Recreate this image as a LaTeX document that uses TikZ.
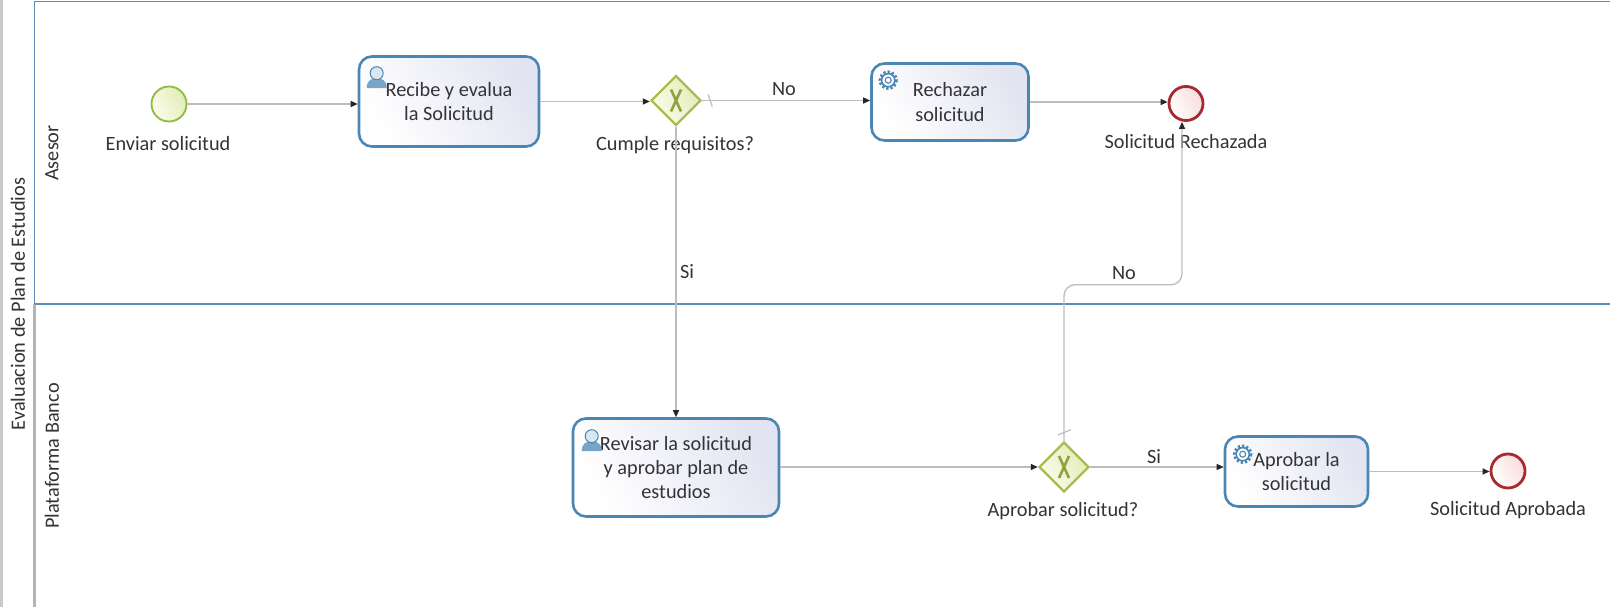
\documentclass[tikz,border=0pt]{standalone}
\usepackage{fontspec}
\setmainfont{Carlito}
\usetikzlibrary{shapes.geometric,arrows.meta,calc}
\definecolor{lanegray}{HTML}{B4B4B4}
\definecolor{laneblue}{HTML}{5B8DB8}
\definecolor{taskblue}{HTML}{4A86B4}
\definecolor{taskend}{HTML}{E2E4F1}
\definecolor{flowgray}{HTML}{BDBDBD}
\definecolor{gwolive}{HTML}{A9BD4E}
\definecolor{gwend}{HTML}{E3EBB8}
\definecolor{gwstart}{HTML}{FBFCEC}
\definecolor{startgreen}{HTML}{8DBB3C}
\definecolor{startend}{HTML}{E2EDB8}
\definecolor{endred}{HTML}{A5292F}
\definecolor{endend}{HTML}{F9DCDA}
\definecolor{txt}{HTML}{333338}
\tikzset{
  x=1pt,y=-1pt,
  lbl/.style={text=txt,font=\fontsize{20.3}{24.4}\selectfont,inner sep=0pt,align=center},
  task/.style={draw=taskblue,line width=2.6pt,rounded corners=13pt,inner sep=0pt,left color=white,right color=taskend,shading angle=120,text=txt,font=\fontsize{20.3}{24.4}\selectfont,align=center},
  gateway/.style={diamond,draw=gwolive,line width=2.4pt,minimum width=50pt,minimum height=50pt,inner sep=0pt,aspect=1,left color=gwstart,right color=gwend,shading angle=120},
  startev/.style={circle,draw=startgreen,line width=1.8pt,minimum size=35pt,inner sep=0pt,left color=gwstart,right color=startend,shading angle=120},
  endev/.style={circle,draw=endred,line width=2.8pt,minimum size=34pt,inner sep=0pt,left color=white,right color=endend,shading angle=120},
  flow/.style={draw=flowgray,line width=1.3pt,-{Triangle[length=7pt,width=6pt,color=black!85]}},
  flowtick/.style={draw=flowgray,line width=1.2pt},
  usericon/.pic={
    \fill[taskblue!75!white] (-10,14) .. controls (-10,6) and (-5,4) .. (0,4) .. controls (5,4) and (10,6) .. (10,14) -- cycle;
    \draw[taskblue,line width=1pt,fill=white!80!taskblue] (0,-1) circle (6.5);
  },
  gearicon/.pic={
    \draw[taskblue,line width=3pt,dash pattern=on 2.2pt off 2pt] (0,0) circle (8.2);
    \draw[taskblue,line width=1.6pt,fill=white] (0,0) circle (6.6);
    \draw[taskblue,line width=1.1pt] (0,0) circle (3);
  },
  gwx/.pic={
    \draw[gwolive!85!black,line width=2.6pt] (-5,-11) -- (5,11) (5,-11) -- (-5,11);
  }
}
\begin{document}
\begin{tikzpicture}
\useasboundingbox (0,0) rectangle (1610,607);
\clip (0,0) rectangle (1610,607);
\fill[white] (0,0) rectangle (1610,607);
% pool and lanes
\fill[lanegray!70] (0,0) rectangle (2.5,607);
\draw[lanegray,line width=2.4pt] (34.5,304) -- (34.5,607);
\draw[laneblue,line width=1.8pt] (34.5,304) -- (34.5,1.5) -- (1610,1.5);
\draw[laneblue,line width=1.8pt] (34.5,304) -- (1610,304);
\node[lbl,rotate=90] (pool) at (18,304) {Evaluacion de Plan de Estudios};
\node[lbl,rotate=90] (lane1) at (52,153) {Asesor};
\node[lbl,rotate=90] (lane2) at (52,456) {Plataforma Banco};
% nodes
\node[startev] (start) at (169,104) {};
\node[task,minimum width=180pt,minimum height=90pt] (recibe) at (449,101.5) {\raisebox{-1pt}{Recibe y evalua}\\\raisebox{-1pt}{la Solicitud}};
\node[gateway] (gw1) at (676,100.5) {};
\node[task,minimum width=157pt,minimum height=77pt] (rechazar) at (950,102) {Rechazar\\solicitud};
\node[endev] (end1) at (1186,103.5) {};
\node[task,minimum width=206pt,minimum height=98pt] (revisar) at (676,467.5) {Revisar la solicitud\\y aprobar plan de\\estudios};
\node[gateway] (gw2) at (1064,467) {};
\node[task,minimum width=143pt,minimum height=70pt] (aprobar) at (1296.5,471.5) {Aprobar la\\solicitud};
\node[endev] (end2) at (1508,471) {};
% task and gateway markers
\pic at ($(recibe.north west)+(19,19)$) {usericon};
\pic at ($(revisar.north west)+(20,20)$) {usericon};
\pic at ($(rechazar.north west)+(18,18)$) {gearicon};
\pic at ($(aprobar.north west)+(19,19)$) {gearicon};
\pic at (gw1.center) {gwx};
\pic at (gw2.center) {gwx};
% labels
\node[lbl] (l1) at (168,144) {Enviar solicitud};
\node[lbl] (l2) at (675,145) {Cumple requisitos?};
\node[lbl] (l3) at (1186,142) {Solicitud Rechazada};
\node[lbl] (l4) at (1063,511) {Aprobar solicitud?};
\node[lbl] (l5) at (1508,510) {Solicitud Aprobada};
\node[lbl] (no1) at (784,89) {No};
\node[lbl] (si1) at (687,272) {Si};
\node[lbl] (no2) at (1124,273) {No};
\node[lbl] (si2) at (1154,457) {Si};
% flows
\draw[flow] (start.east) -- (start.east -| recibe.west);
\draw[flow] (recibe.east) -- (recibe.east -| gw1.west);
\draw[flow] (gw1.east) -- (gw1.east -| rechazar.west);
\draw[flow] (rechazar.east) -- (rechazar.east -| end1.west);
\draw[flow] (gw1.south) -- (gw1.south |- revisar.north);
\draw[flow] (revisar.east |- gw2.west) -- (gw2.west);
\draw[flow] (gw2.east) -- (gw2.east -| aprobar.west);
\draw[flow] (aprobar.east) -- (aprobar.east -| end2.west);
\coordinate (c1) at ($(gw2.north)+(0,-156)$);
\coordinate (c2) at ($(end1.south)+(-4,0)$);
\draw[flow,rounded corners=11pt] (gw2.north) -- (c1) -- (c1 -| c2) -- (c2);
% default-flow ticks
\draw[flowtick] ($(gw1.east)+(6,-6)$) -- ($(gw1.east)+(10,6)$);
\draw[flowtick] ($(gw2.north)+(-6,-6)$) -- ($(gw2.north)+(7,-11)$);
\end{tikzpicture}
\end{document}
